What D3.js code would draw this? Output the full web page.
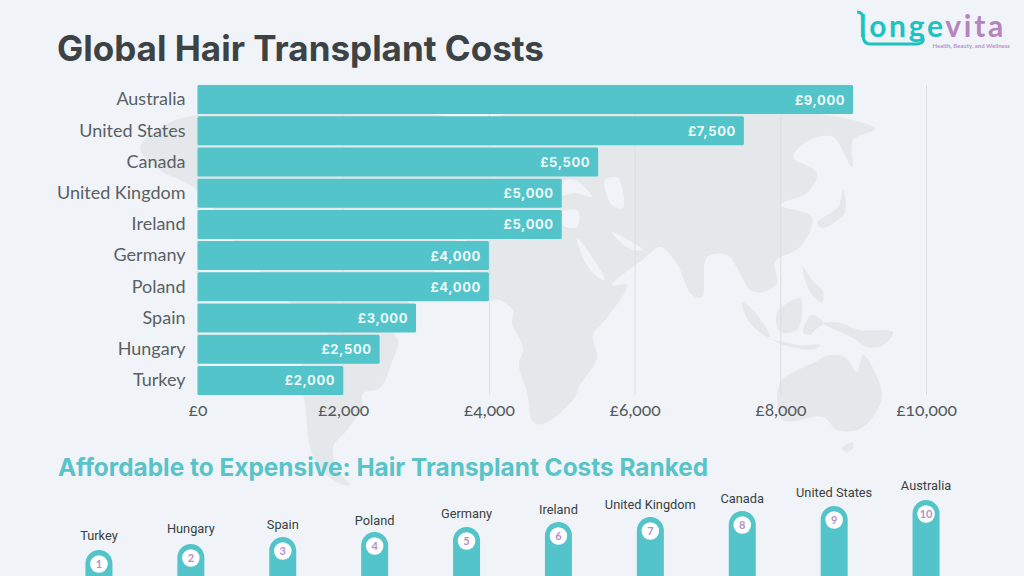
<!DOCTYPE html>
<html><head><meta charset="utf-8">
<script src="https://cdn.jsdelivr.net/npm/d3@7/dist/d3.min.js"></script>
<style>
html,body{margin:0;padding:0;background:#f0f4f8;overflow:hidden}
svg{display:block}
text{font-family:Lato,sans-serif}
</style></head><body>
<svg id="c" width="1024" height="576"></svg>
<script>
const countries=["Australia","United States","Canada","United Kingdom","Ireland","Germany","Poland","Spain","Hungary","Turkey"];
const costs=[9000,7500,5500,5000,5000,4000,4000,3000,2500,2000];
const tickValues=[0,2000,4000,6000,8000,10000];
const rankedCountries=["Turkey","Hungary","Spain","Poland","Germany","Ireland","United Kingdom","Canada","United States","Australia"];
const ranks=[1,2,3,4,5,6,7,8,9,10];
const pillarHeights=[26,32,39,44,49,54,59,65,70,76];

const landShapes=[
 [[140,148],[165,125],[197,115],[400,110],[500,140],[450,250],[350,340],[250,260],[197,190],[160,170]],
 [[398,340],[392,362],[380,388],[363,393],[362,407],[347,430],[333,447],[338,470],[350,485],[336,482],[318,465],[310,447],[305,403],[300,370],[330,335],[380,325]],
 [[480,300],[500,300],[513,311],[512,323],[523,348],[519,365],[527,392],[533,422],[543,424],[573,400],[580,385],[597,358],[593,335],[607,318],[627,285],[612,285],[645,258],[660,247],[676,262],[692,295],[702,297],[707,257],[727,255],[740,273],[750,290],[763,292],[777,283],[775,262],[800,247],[812,217],[780,205],[807,193],[817,173],[793,157],[810,140],[833,137],[852,167],[853,140],[875,129],[853,120],[800,112],[600,105],[480,130]],
 [[843,190],[838,207],[817,223],[822,228],[845,212]],
 [[742,302],[755,312],[770,337],[762,334],[748,320]],
 [[773,340],[800,345],[820,345],[815,349],[790,347]],
 [[777,313],[800,298],[802,315],[797,330],[780,332]],
 [[803,332],[812,315],[823,323],[815,330],[810,335]],
 [[803,267],[812,280],[823,292],[822,302],[812,295],[805,280]],
 [[823,323],[840,323],[860,330],[893,332],[882,346],[867,347],[853,338]],
 [[780,383],[813,363],[830,355],[845,357],[857,372],[863,355],[882,393],[873,417],[857,430],[837,430],[823,417],[783,420]],
 [[842,448],[853,442],[852,450],[845,452]]
];
const waterShapes=[
 [[577,238],[590,254],[605,280],[599,278],[586,264]],
 [[612,232],[625,238],[643,250],[630,249],[618,240]],
 [[605,180],[618,178],[623,208],[612,205]],
 [[560,183],[575,180],[592,197],[575,193],[560,195]],
 [[562,212],[578,211],[577,227],[562,225]]
];

const svg=d3.select("#c");
const teal="#53c4c9", ink="#5a5f63";
svg.append("rect").attr("width",1024).attr("height",576).attr("fill","#f0f4f8");

const blob=d3.line().curve(d3.curveCatmullRomClosed.alpha(.5));
svg.append("g").selectAll("path").data(landShapes).join("path").attr("d",blob).attr("fill","#e5e8ea");
svg.append("g").selectAll("path").data(waterShapes).join("path").attr("d",blob).attr("fill","#f0f4f8");

const x=d3.scaleLinear().domain([0,10000]).range([197.5,926]);
const y=d3.scaleBand().domain(countries).range([84,396]).paddingInner(.07).paddingOuter(.035);

const xAxis=svg.append("g").attr("transform","translate(0,395)")
 .call(d3.axisBottom(x).tickValues(tickValues).tickFormat(d=>"£"+d3.format(",")(d)).tickSize(-310).tickPadding(9));
xAxis.select(".domain").remove();
xAxis.selectAll("line").attr("stroke","#dadee1").attr("stroke-width",1);
xAxis.selectAll("text").attr("font-size",17.5).attr("fill","#55595c").style("font-family","Lato").style("font-variant-numeric","oldstyle-nums");

const yAxis=svg.append("g").attr("transform","translate(197.5,0)")
 .call(d3.axisLeft(y).tickSize(0).tickPadding(12));
yAxis.select(".domain").remove();
yAxis.selectAll("text").attr("font-size",18).attr("fill",ink).style("font-family","Lato");

svg.append("g").selectAll("rect").data(countries).join("rect")
 .attr("x",x(0)).attr("y",d=>y(d)).attr("width",(d,i)=>x(costs[i])-x(0)).attr("height",y.bandwidth()).attr("rx",1.5).attr("fill",teal);
svg.append("g").selectAll("text").data(countries).join("text")
 .attr("x",(d,i)=>x(costs[i])-8).attr("y",d=>y(d)+y.bandwidth()/2+5)
 .attr("text-anchor","end").style("font-family","Inter").attr("font-size",13).attr("font-weight",700).attr("letter-spacing",.6).attr("fill","#eef9f9")
 .text((d,i)=>"£"+d3.format(",")(costs[i]));

svg.append("text").attr("x",57).attr("y",61).style("font-family","Inter").attr("font-size",35).attr("font-weight",700).attr("fill","#3d4245").text("Global Hair Transplant Costs");
svg.append("text").attr("x",58).attr("y",476).style("font-family","Inter").attr("font-size",24.4).attr("font-weight",700).attr("fill","#58c3c8").text("Affordable to Expensive: Hair Transplant Costs Ranked");

const px=d3.scaleBand().domain(ranks).range([53,972]);
const ph=d3.scaleLinear().domain([0,76]).range([576,500]);
const w=27;
const labelGap=[15,16,13,12,14,13,13,13,14,15];
const pc=d=>px(d)+px.bandwidth()/2;
const pillarTop=(i)=>ph(pillarHeights[i]);
const pg=svg.append("g");
pg.selectAll("path").data(ranks).join("path").attr("fill",teal)
 .attr("d",(d,i)=>{const p=d3.path(),c=pc(d),t=pillarTop(i),r=w/2;p.moveTo(c-r,576);p.lineTo(c-r,t+r);p.arc(c,t+r,r,Math.PI,0);p.lineTo(c+r,576);p.closePath();return p.toString();});
pg.selectAll("circle").data(ranks).join("circle").attr("cx",pc).attr("cy",(d,i)=>pillarTop(i)+14).attr("r",8.8).attr("fill","#fff");
pg.selectAll("text.n").data(ranks).join("text").attr("class","n").attr("x",pc).attr("y",(d,i)=>pillarTop(i)+18)
 .attr("text-anchor","middle").attr("font-size",11).attr("font-weight",700).attr("fill","#b78fc6").text(d=>d);
pg.selectAll("text.l").data(ranks).join("text").attr("class","l").attr("x",pc).attr("y",(d,i)=>pillarTop(i)-labelGap[i]+4.5)
 .attr("text-anchor","middle").style("font-family","Roboto").attr("font-size",12.8).attr("fill","#3a3f42").text((d,i)=>rankedCountries[i]);

const logo=svg.append("g");
logo.append("text").attr("x",859).attr("y",36.5).attr("font-size",30).attr("font-weight",700).attr("letter-spacing",2.7)
 .style("font-family","Lato").attr("fill","#1fc2c0").text("longe")
 .append("tspan").attr("fill","#b583bf").text("vita");
logo.append("path").attr("d","M857 12 Q863 12 863 18 M863 34 Q863 44 870 44 L917 44 Q926 43 922 36").attr("fill","none").attr("stroke","#1fc2c0").attr("stroke-width",3);
logo.append("text").attr("x",1010).attr("y",47.5).attr("text-anchor","end").attr("font-size",6).attr("font-weight",700).attr("fill","#c08fc8").text("Health, Beauty, and Wellness");
</script></body></html>
